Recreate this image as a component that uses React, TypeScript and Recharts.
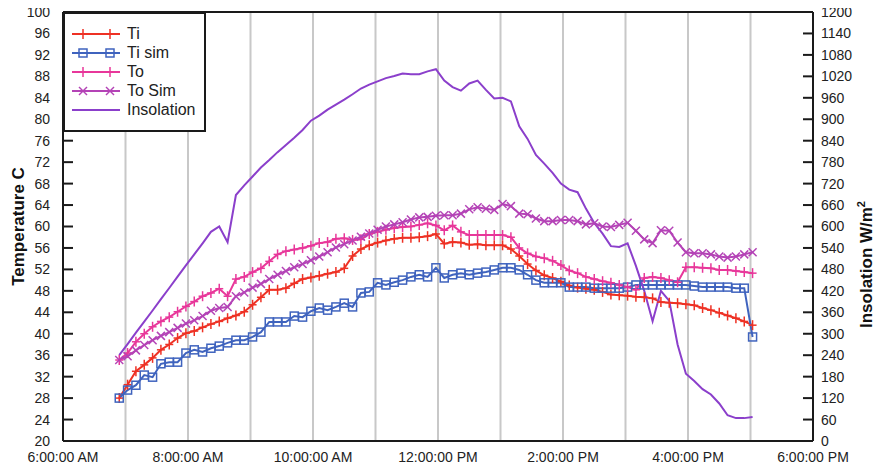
import React from 'react';
import { LineChart, Line, XAxis, YAxis, ReferenceLine, Legend } from 'recharts';

// minutes after midnight
const times = [
  414, 422, 430, 438, 446, 454, 462, 470, 478, 486,
  494, 502, 510, 518, 526, 534, 542, 550, 558, 566,
  574, 582, 590, 598, 606, 614, 622, 630, 638, 646,
  654, 662, 670, 678, 686, 694, 702, 710, 718, 726,
  734, 742, 750, 758, 766, 774, 782, 790, 798, 806,
  814, 822, 830, 838, 846, 854, 862, 870, 878, 886,
  894, 902, 910, 918, 926, 934, 942, 950, 958, 966,
  974, 982, 990, 998, 1006, 1014, 1022,
];

const ti = [
  28, 30.5, 33, 34.2, 35.5, 37, 38, 39.2, 40.1, 40.5,
  41.2, 41.8, 42.3, 42.9, 43.4, 44.1, 45.4, 46.8, 48.2, 48.2,
  48.5, 49.4, 50.2, 50.5, 50.8, 51.2, 51.5, 52.2, 54.5, 55.8,
  56.5, 57, 57.4, 57.7, 57.9, 57.9, 58, 58.2, 58.6, 56.8,
  57.1, 57, 56.6, 56.7, 56.5, 56.5, 56.5, 55.8, 54.5, 53,
  51.8, 50.9, 50.4, 49.7, 49, 48.6, 48.4, 48.2, 47.8, 47.3,
  47.2, 47.1, 46.9, 46.8, 46.6, 45.9, 45.8, 45.7, 45.5, 45.3,
  44.8, 44.4, 43.9, 43.4, 42.9, 42.3, 41.6,
];

const tiSim = [
  28, 29.5, 30.4, 32.3, 31.9, 34.4, 34.7, 34.7, 36.4, 37,
  36.6, 37.3, 37.7, 38.3, 38.8, 38.8, 39.4, 40.3, 42.2, 42.2,
  42.2, 43.3, 43.1, 44.2, 44.8, 44.4, 45, 45.7, 45, 47.6,
  47.8, 49.5, 49.1, 49.6, 50, 50.6, 51, 50.6, 52.3, 50.4,
  51, 51.3, 51, 51.3, 51.5, 51.9, 52.3, 52.3, 51.9, 51,
  50, 49.5, 49.5, 49.5, 48.7, 48.7, 48.7, 48.5, 48.5, 48.5,
  48.5, 48.7, 49.1, 49.1, 49.1, 49.1, 49.1, 49.1, 49.1, 48.9,
  48.7, 48.7, 48.7, 48.7, 48.5, 48.5, 39.4,
];

const to = [
  35.1, 36.4, 38.5, 40, 41.3, 42.3, 43.1, 44.1, 45.1, 46,
  47, 47.6, 48.4, 47, 50.2, 50.6, 51.5, 52.2, 53.5, 54.8,
  55.4, 55.7, 56, 56.4, 56.9, 57.1, 57.7, 57.8, 57.5, 57.6,
  58.6, 59, 59.4, 59.7, 59.9, 60, 60.3, 60.6, 60.2, 59.3,
  60.2, 59, 58.4, 58.4, 58.4, 58.4, 58.4, 58, 56, 55,
  54.4, 54.1, 53.6, 52.8, 51.8, 51.3, 50.6, 50.2, 49.8, 49.5,
  49.1, 48.7, 48.2, 50.4, 50.6, 50.4, 50, 49.6, 52.4, 52.4,
  52.3, 52.2, 51.9, 51.9, 51.7, 51.5, 51.3,
];

const toSim = [
  35.1, 35.8, 36.9, 37.9, 38.8, 39.6, 40.3, 41.1, 41.9, 42.5,
  43.3, 44.3, 44.8, 45, 47, 47.7, 48.6, 49.3, 50.2, 51,
  51.7, 52.4, 53, 53.7, 54.4, 55.2, 56.1, 56.7, 57.4, 58.1,
  58.7, 59.4, 60, 60.4, 60.8, 61.3, 61.7, 61.8, 62, 62.1,
  62.1, 62.4, 63.2, 63.6, 63.3, 63.1, 64.2, 63.8, 62.4, 62.3,
  61.5, 61, 61, 61.2, 61.2, 61, 60.4, 60.6, 60, 59.9,
  60.3, 60.7, 59.2, 57.6, 56.9, 59.3, 59.2, 57, 55.2, 55,
  55, 54.8, 54.4, 54.2, 54.4, 54.8, 55.2,
];

const insolation = [
  240, 271, 303, 334, 365, 397, 428, 460, 491, 522,
  553, 585, 600, 556, 688, 715, 740, 765, 786, 808,
  828, 848, 870, 896, 910, 927, 941, 955, 970, 986,
  997, 1006, 1015, 1021, 1028, 1026, 1026, 1034, 1040, 1008,
  990, 980, 1000, 1008, 982, 958, 960, 950, 880, 845,
  800, 776, 750, 720, 703, 696, 650, 610, 580, 545,
  543, 553, 490, 420, 335, 420, 392, 270, 188, 168,
  145, 130, 105, 72, 64, 64, 67,
];

const xTicks = [360, 480, 600, 720, 840, 960, 1080];
const gridMinutes = [420, 480, 540, 600, 660, 720, 780, 840, 900, 960, 1020];
const tempTicks = [20, 24, 28, 32, 36, 40, 44, 48, 52, 56, 60, 64, 68, 72, 76, 80, 84, 88, 92, 96, 100];
const solarTicks = [0, 60, 120, 180, 240, 300, 360, 420, 480, 540, 600, 660, 720, 780, 840, 900, 960, 1020, 1080, 1140, 1200];

const data = times.map((t, i) => ({
  t,
  ti: ti[i],
  tiSim: tiSim[i],
  to: to[i],
  toSim: toSim[i],
  insolation: insolation[i],
}));

const COLORS = {
  ti: '#ee3124',
  tiSim: '#3f63be',
  to: '#e8379a',
  toSim: '#b443b6',
  insolation: '#8b3fcb',
};

const AXIS = '#1a1a1a';
const FONT = "'Liberation Sans', Arial, sans-serif";

const fmtTime = (m: number) => {
  const h = Math.floor(m / 60);
  const suffix = h >= 12 ? 'PM' : 'AM';
  const h12 = h % 12 === 0 ? 12 : h % 12;
  return `${h12}:00:00 ${suffix}`;
};

type Marker = 'plus' | 'square' | 'cross' | 'none';

const drawMarker = (kind: Marker, cx: number, cy: number, color: string, key?: string) => {
  if (kind === 'plus') {
    return (
      <g key={key}>
        <line x1={cx - 4} x2={cx + 4} y1={cy} y2={cy} stroke={color} strokeWidth={1.5} />
        <line x1={cx} x2={cx} y1={cy - 5} y2={cy + 5} stroke={color} strokeWidth={1.5} />
      </g>
    );
  }
  if (kind === 'square') {
    return <rect key={key} x={cx - 4} y={cy - 4} width={8} height={8} fill="none" stroke={color} strokeWidth={1.5} />;
  }
  if (kind === 'cross') {
    return (
      <g key={key}>
        <line x1={cx - 4} x2={cx + 4} y1={cy - 4} y2={cy + 4} stroke={color} strokeWidth={1.5} />
        <line x1={cx - 4} x2={cx + 4} y1={cy + 4} y2={cy - 4} stroke={color} strokeWidth={1.5} />
      </g>
    );
  }
  return <g key={key} />;
};

const dotFor = (kind: Marker, color: string) => (props: any) => {
  const { cx, cy, index } = props;
  const key = `${kind}-${index}`;
  if (cx == null || cy == null) return <g key={key} />;
  return drawMarker(kind, cx, cy, color, key);
};

const legendItems: { name: string; color: string; marker: Marker }[] = [
  { name: 'Ti', color: COLORS.ti, marker: 'plus' },
  { name: 'Ti sim', color: COLORS.tiSim, marker: 'square' },
  { name: 'To', color: COLORS.to, marker: 'plus' },
  { name: 'To Sim', color: COLORS.toSim, marker: 'cross' },
  { name: 'Insolation', color: COLORS.insolation, marker: 'none' },
];

const LegendBox = () => (
  <div
    style={{
      width: 143,
      height: 120,
      border: `2px solid ${AXIS}`,
      background: '#fff',
      padding: '10px 0 0 7px',
      boxSizing: 'border-box',
      fontFamily: FONT,
      fontSize: 16,
      color: '#222',
      textAlign: 'left',
    }}
  >
    {legendItems.map((it) => (
      <div key={it.name} style={{ display: 'flex', alignItems: 'center', height: 19 }}>
        <svg width={48} height={14} style={{ marginRight: 7 }}>
          <line x1={0} x2={48} y1={7} y2={7} stroke={it.color} strokeWidth={2} />
          {drawMarker(it.marker, 11, 7, it.color, 'a')}
          {drawMarker(it.marker, 38, 7, it.color, 'b')}
        </svg>
        <span>{it.name}</span>
      </div>
    ))}
  </div>
);

const LeftTick = (props: any) => {
  const { x, y, payload } = props;
  return (
    <g>
      <line x1={x + 13} x2={x + 23} y1={y} y2={y} stroke={AXIS} strokeWidth={2} />
      <text x={x} y={y} dy="0.355em" textAnchor="end" fontSize={14} fill="#222" fontFamily={FONT}>
        {payload.value}
      </text>
    </g>
  );
};

const RightTick = (props: any) => {
  const { x, y, payload } = props;
  return (
    <g>
      <line x1={x - 8} x2={x - 18} y1={y} y2={y} stroke={AXIS} strokeWidth={2} />
      <text x={x} y={y} dy="0.355em" textAnchor="start" fontSize={14} fill="#222" fontFamily={FONT}>
        {payload.value}
      </text>
    </g>
  );
};

const BottomTick = (props: any) => {
  const { x, y, payload } = props;
  return (
    <text x={x} y={y} dy="0.71em" textAnchor="middle" fontSize={14} fill="#222" fontFamily={FONT}>
      {fmtTime(payload.value)}
    </text>
  );
};

const LeftLabel = (props: any) => {
  const vb = props.viewBox;
  const cx = vb.x + 18;
  const cy = vb.y + vb.height / 2;
  return (
    <text x={cx} y={cy} transform={`rotate(-90 ${cx} ${cy})`} textAnchor="middle" dy="0.35em"
      fontSize={17} fontWeight="bold" fill="#111" fontFamily={FONT}>
      Temperature C
    </text>
  );
};

const RightLabel = (props: any) => {
  const vb = props.viewBox;
  const cx = vb.x + vb.width - 15;
  const cy = vb.y + vb.height / 2 + 38;
  return (
    <text x={cx} y={cy} transform={`rotate(-90 ${cx} ${cy})`} textAnchor="middle" dy="0.35em"
      fontSize={17} fontWeight="bold" fill="#111" fontFamily={FONT}>
      Insolation W/m<tspan fontSize={11} dy="-7">2</tspan>
    </text>
  );
};

export default function App() {
  return (
    <div style={{ width: 881, height: 470, margin: -8, background: '#fff', fontFamily: FONT }}>
      <LineChart width={881} height={470} data={data} margin={{ top: 12, right: 0, bottom: 0, left: 0 }}>
        <XAxis
          dataKey="t"
          type="number"
          domain={[360, 1080]}
          ticks={xTicks}
          height={29}
          tickSize={0}
          tickMargin={11}
          tick={<BottomTick />}
          axisLine={{ stroke: AXIS, strokeWidth: 2 }}
          interval={0}
        />
        <YAxis
          yAxisId="left"
          domain={[20, 100]}
          ticks={tempTicks}
          width={63}
          tickSize={0}
          tickMargin={13}
          tick={<LeftTick />}
          axisLine={{ stroke: AXIS, strokeWidth: 2 }}
          interval={0}
          label={<LeftLabel />}
        />
        <YAxis
          yAxisId="right"
          orientation="right"
          domain={[0, 1200]}
          ticks={solarTicks}
          width={68}
          tickSize={0}
          tickMargin={8}
          tick={<RightTick />}
          axisLine={{ stroke: AXIS, strokeWidth: 2 }}
          interval={0}
          label={<RightLabel />}
        />
        {gridMinutes.map((m) => (
          <ReferenceLine key={m} x={m} yAxisId="left" stroke="#c8c8c8" strokeWidth={2} />
        ))}
        <ReferenceLine y={100} yAxisId="left" stroke={AXIS} strokeWidth={2} />
        <Line yAxisId="left" type="linear" dataKey="ti" stroke={COLORS.ti} strokeWidth={2}
          dot={dotFor('plus', COLORS.ti)} activeDot={false} isAnimationActive={false} />
        <Line yAxisId="left" type="linear" dataKey="tiSim" stroke={COLORS.tiSim} strokeWidth={2}
          dot={dotFor('square', COLORS.tiSim)} activeDot={false} isAnimationActive={false} />
        <Line yAxisId="left" type="linear" dataKey="to" stroke={COLORS.to} strokeWidth={2}
          dot={dotFor('plus', COLORS.to)} activeDot={false} isAnimationActive={false} />
        <Line yAxisId="left" type="linear" dataKey="toSim" stroke={COLORS.toSim} strokeWidth={2}
          dot={dotFor('cross', COLORS.toSim)} activeDot={false} isAnimationActive={false} />
        <Line yAxisId="right" type="linear" dataKey="insolation" stroke={COLORS.insolation} strokeWidth={2}
          dot={false} activeDot={false} isAnimationActive={false} />
        <Legend
          verticalAlign="middle"
          align="center"
          layout="vertical"
          content={<LegendBox />}
          wrapperStyle={{ top: 12, left: 63, width: 143, height: 120 }}
        />
      </LineChart>
    </div>
  );
}
